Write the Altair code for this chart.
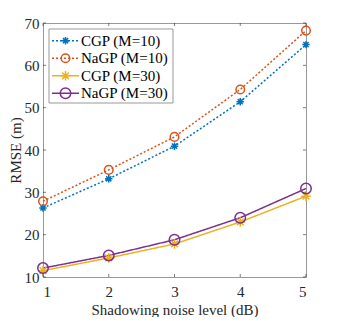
import altair as alt
import pandas as pd

noise = [1, 2, 3, 4, 5]
series = ["CGP (M=10)", "NaGP (M=10)", "CGP (M=30)", "NaGP (M=30)"]
cgp10 = [26.3, 33.2, 40.9, 51.4, 64.9]
nagp10 = [27.9, 35.3, 43.1, 54.3, 68.2]
cgp30 = [11.5, 14.5, 17.8, 23.0, 29.1]
nagp30 = [12.1, 15.1, 18.8, 24.0, 30.9]
colors = ["#0072BD", "#D95319", "#EDB120", "#7E2F8E"]
x_ticks = [1, 2, 3, 4, 5]
y_ticks = [10, 20, 30, 40, 50, 60, 70]

rows = []
for name, vals in zip(series, [cgp10, nagp10, cgp30, nagp30]):
    for xv, yv in zip(noise, vals):
        rows.append({"series": name, "noise": xv, "rmse": yv})
df = pd.DataFrame(rows)
leg = pd.DataFrame({"series": series})

W, H = 263, 254
FONT = "Liberation Serif"
ASTER = "M0,-1V1M-1,0H1M-0.7,-0.7L0.7,0.7M-0.7,0.7L0.7,-0.7"

xs = alt.Scale(domain=[1, 5], nice=False, zero=False)
ys = alt.Scale(domain=[10, 70], nice=False, zero=False)

color = alt.Color("series:N", scale=alt.Scale(domain=series, range=colors), legend=None)
dash = alt.StrokeDash("series:N", scale=alt.Scale(domain=series, range=[[2, 2], [2, 2], [1, 0], [1, 0]]), legend=None)
shape = alt.Shape("series:N", scale=alt.Scale(domain=series, range=[ASTER, "circle", ASTER, "circle"]), legend=None)
size = alt.Size("series:N", scale=alt.Scale(domain=series, range=[55, 110, 55, 110]), legend=None)

xenc = alt.X("noise:Q", scale=xs,
             axis=alt.Axis(values=x_ticks, format="d", title="Shadowing noise level (dB)", ticks=False,
                           grid=False, domain=False, labelPadding=7, titlePadding=3))
yenc = alt.Y("rmse:Q", scale=ys,
             axis=alt.Axis(values=y_ticks, title="RMSE (m)", ticks=False, grid=False, domain=False,
                           labelPadding=4, titlePadding=1))

base = alt.Chart(df)
lines = base.mark_line(strokeWidth=1.5).encode(x=xenc, y=yenc, color=color, strokeDash=dash,
                                               detail="series:N")
points = base.mark_point(filled=False, strokeWidth=1.5, opacity=1).encode(
    x=alt.X("noise:Q", scale=xs), y=alt.Y("rmse:Q", scale=ys), color=color, shape=shape, size=size)

xt = alt.Chart(pd.DataFrame({"t": x_ticks}))
yt = alt.Chart(pd.DataFrame({"t": y_ticks}))
tick_col = "#262626"
tx = alt.X("t:Q", scale=xs)
ty = alt.Y("t:Q", scale=ys)
tb = xt.mark_rule(color=tick_col, strokeWidth=0.6).encode(x=tx, y=alt.value(H), y2=alt.value(H - 3))
tt = xt.mark_rule(color=tick_col, strokeWidth=0.6).encode(x=tx, y=alt.value(0), y2=alt.value(3))
tl = yt.mark_rule(color=tick_col, strokeWidth=0.6).encode(y=ty, x=alt.value(0), x2=alt.value(3))
tr = yt.mark_rule(color=tick_col, strokeWidth=0.6).encode(y=ty, x=alt.value(W), x2=alt.value(W - 3))

main = alt.layer(lines, points, tb, tt, tl, tr)

lb = alt.Chart(leg)
legy = alt.Y("series:N", scale=alt.Scale(type="point", domain=series, range=[17.7, 70.3], padding=0), axis=None)
box = alt.Chart(pd.DataFrame({"a": [0]})).mark_rect(fill="white", stroke="#999999", strokeWidth=1).encode(
    x=alt.value(6), x2=alt.value(130), y=alt.value(6), y2=alt.value(80))
lseg = lb.mark_rule(strokeWidth=1.5).encode(x=alt.value(9), x2=alt.value(36), y=legy, color=color, strokeDash=dash)
lpt = lb.mark_point(filled=False, strokeWidth=1.5, opacity=1).encode(
    x=alt.value(22.5), y=legy, color=color, shape=shape, size=size)
ltxt = lb.mark_text(align="left", baseline="middle", font=FONT, fontSize=15, color="#000000").encode(
    x=alt.value(38), y=legy, text="series:N")
legend = alt.layer(box, lseg, lpt, ltxt)

chart = alt.layer(main, legend).resolve_scale(y="independent").properties(
    width=W, height=H, background="white",
    padding={"left": 0, "top": 8, "right": 5, "bottom": 0}
).configure_view(stroke="#999999", strokeWidth=1).configure_axis(
    labelFont=FONT, titleFont=FONT, labelFontSize=15, titleFontSize=15,
    labelColor="#262626", titleColor="#262626", titleFontWeight="normal"
)

chart.save("out.html", embed_options={"renderer": "svg", "actions": False})
